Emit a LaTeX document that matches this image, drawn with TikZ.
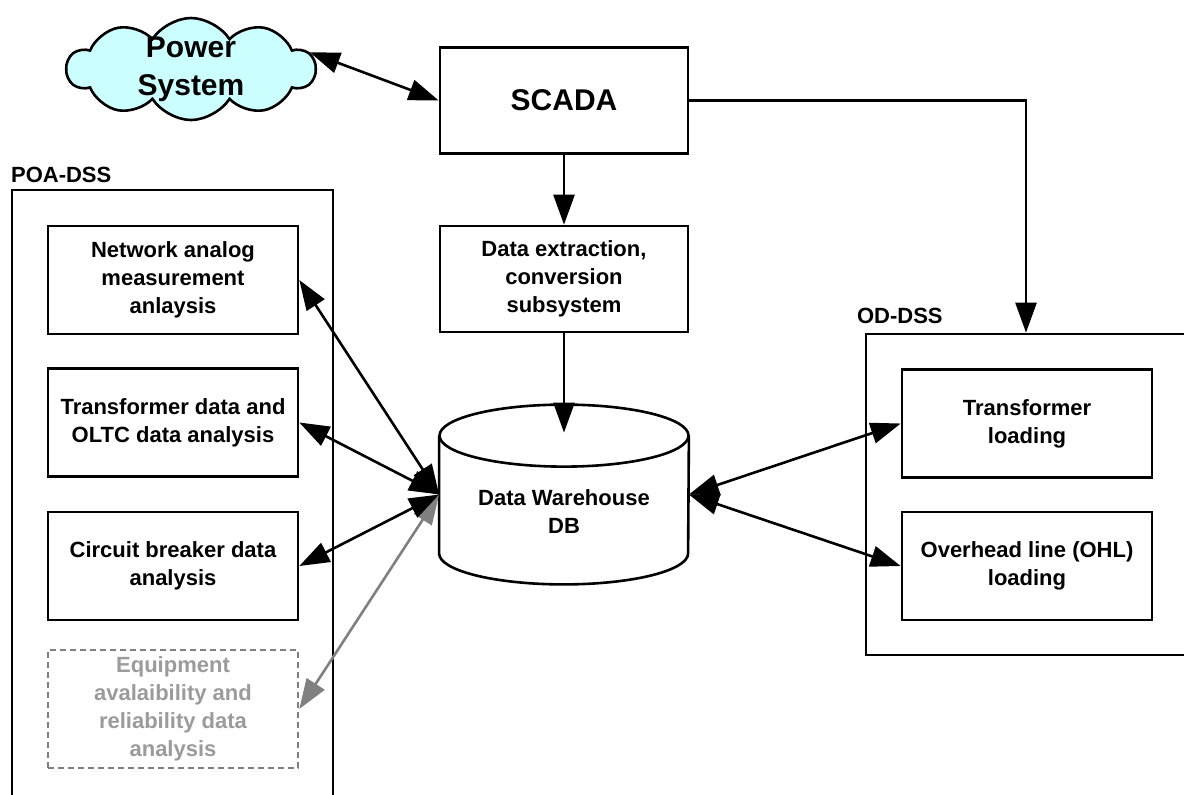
\documentclass[tikz,border=0pt]{standalone}
\usepackage{fontspec}
\setmainfont{Liberation Sans}
\usepackage{tikz}
\usetikzlibrary{positioning,shapes.symbols,arrows.meta}

\begin{document}
\begin{tikzpicture}[x=0.5pt, y=-0.5pt, every node/.style={font=\bfseries}, >={Triangle[length=15pt,width=10.5pt]}]
		% Define colors
		\definecolor{cloudfill}{RGB}{204, 255, 255}
		\definecolor{greyline}{RGB}{128, 128, 128}
		\definecolor{greytext}{RGB}{155, 155, 155}

		% Styles
		\tikzstyle{box_line} = [draw=black, line width=1.3pt]
		\tikzstyle{main_box} = [box_line, minimum width=124pt, minimum height=53pt, align=center, font=\bfseries\fontsize{11}{14}\selectfont]
		\tikzstyle{sub_box} = [main_box, minimum width=125pt, minimum height=54pt]
		\tikzstyle{grey_box} = [sub_box, draw=greyline, dash pattern=on 3pt off 2pt, text=greytext]
		\tikzstyle{group_box} = [box_line, inner sep=0pt]
		\tikzstyle{group_label} = [inner sep=0pt, font=\bfseries\fontsize{11}{12}\selectfont]
		\tikzstyle{cloud_box} = [cloud, cloud puffs=10, cloud puff arc=115, cloud ignores aspect, draw=black, line width=1.3pt, fill=cloudfill, minimum width=124pt, minimum height=51pt, inner sep=0pt]
		\tikzstyle{link} = [line width=1.3pt, draw=black]
		\tikzstyle{grey_link} = [line width=1.3pt, draw=greyline, fill=greyline]

		% Page
		\clip (0,0) rectangle (1184,794);

		% Power system and SCADA
		\node[cloud_box, label={[align=center, font=\bfseries\fontsize{15}{19}\selectfont]center:Power\\System}] (psys) at (191,69) {};
		\node[main_box, font=\bfseries\fontsize{15}{18}\selectfont] (scada) at (564,100.5) {SCADA};
		\node[main_box] (extract) at (564,279) {Data extraction,\\conversion\\subsystem};

		% Data warehouse (cylinder drawn round db)
		\node[minimum width=124.5pt, minimum height=89.5pt] (db) at (564,494.5) {};
		\draw[box_line] ([yshift=-15.5pt]db.north) ellipse [x radius=62.25pt, y radius=15.5pt];
		\draw[box_line] ([yshift=-15.5pt]db.north west) -- ([yshift=15.5pt]db.south west)
			arc [start angle=180, end angle=360, x radius=62.25pt, y radius=15.5pt] -- ([yshift=-15.5pt]db.north east);
		\node[align=center, font=\bfseries\fontsize{11}{14}\selectfont] (dbtext) at ([yshift=-8.5pt]db.center) {Data Warehouse\\DB};
		\coordinate (dbtop) at ([yshift=-14pt]db.north);

		% POA-DSS group
		\node[group_box, minimum width=160.5pt, minimum height=310pt] (poa) at (172.5,500) {};
		\node[group_label, anchor=south west] (poalabel) at ([yshift=3pt]poa.north west) {POA-DSS};
		\node[sub_box] (nam) at (173,280) {Network analog\\measurement\\anlaysis};
		\node[sub_box] (tdo) at (173,422.5) {Transformer data and\\OLTC data analysis};
		\node[sub_box] (cbd) at (173,566) {Circuit breaker data\\analysis};
		\node[grey_box] (eqr) at (173,709) {Equipment\\avalaibility and\\reliability data\\analysis};

		% OD-DSS group
		\node[group_box, minimum width=160pt, minimum height=160.5pt] (od) at (1026,494.5) {};
		\node[group_label, anchor=south west] (odlabel) at ([xshift=-4pt, yshift=4.5pt]od.north west) {OD-DSS};
		\node[sub_box] (tld) at (1027,423.5) {Transformer\\loading};
		\node[sub_box] (ohl) at (1027,566) {Overhead line (OHL)\\loading};

		% Connectors
		\draw[link, <->] (psys.8) -- (scada.west);
		\draw[link, ->] (scada.south) -- (extract.north);
		\draw[link, ->] (extract.south) -- (dbtop);
		\draw[link, ->] (scada.east) -| (od.north);
		\draw[grey_link, <->] (eqr.east) -- (db.west);
		\draw[link, <->] (nam.east) -- (db.west);
		\draw[link, <->] (tdo.east) -- (db.west);
		\draw[link, <->] (cbd.east) -- (db.west);
		\draw[link, <->] (db.east) -- (tld.west);
		\draw[link, <->] (db.east) -- (ohl.west);

	\end{tikzpicture}
\end{document}
